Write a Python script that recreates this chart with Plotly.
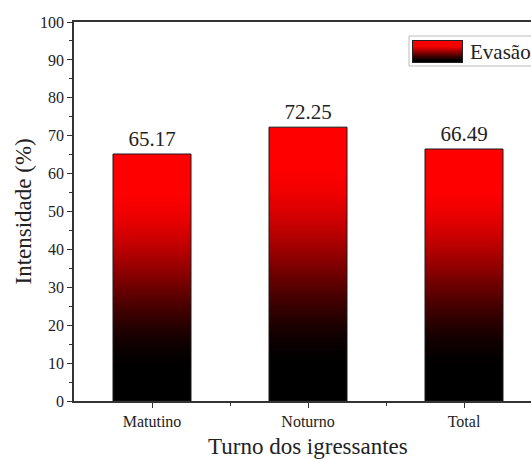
import base64
import plotly.graph_objects as go

categories = ["Matutino", "Noturno", "Total"]
values = [65.17, 72.25, 66.49]
series_name = "Evasão"
y_ticks = list(range(0, 101, 10))

W, H = 531, 459
L, T = 74, 22
BOT_PX = 401
R = 0
B = H - BOT_PX
FONT = "Liberation Serif, Times New Roman, serif"
TXT = "#222222"

N = 100


def grad_color(t):
    x = (t - 0.12) / 0.76
    x = max(0.0, min(1.0, x))
    f = x * x * (3 - 2 * x)
    return f"rgb({int(round(255 * f))},0,0)"


fig = go.Figure()
for k in range(N):
    frac = (N - k) / N
    fig.add_trace(go.Bar(
        x=categories,
        y=[v * frac for v in values],
        width=0.5,
        marker=dict(color=grad_color(frac), line=dict(width=0)),
        showlegend=False,
        hoverinfo="skip",
    ))

fig.add_trace(go.Bar(
    x=categories,
    y=values,
    width=0.5,
    marker=dict(color="rgba(0,0,0,0)", line=dict(color="#1a1a1a", width=1)),
    text=[f"{v:.2f}" for v in values],
    textposition="outside",
    textfont=dict(family=FONT, size=21, color=TXT),
    cliponaxis=False,
    showlegend=False,
    name=series_name,
))

pw = W - L - R
ph = H - T - B


def px_x(px):
    return (px - L) / pw


def px_y(py):
    return (BOT_PX - py) / ph


svg = ('<svg xmlns="http://www.w3.org/2000/svg" width="51" height="23" preserveAspectRatio="none">'
       '<defs><linearGradient id="g" x1="0" y1="0" x2="0" y2="1">'
       '<stop offset="0" stop-color="#ff0000"/><stop offset="0.3" stop-color="#ee0000"/>'
       '<stop offset="0.6" stop-color="#700000"/>'
       '<stop offset="0.9" stop-color="#000000"/><stop offset="1" stop-color="#000000"/></linearGradient></defs>'
       '<rect x="0.5" y="0.5" width="50" height="22" fill="url(#g)" stroke="#222" stroke-width="1"/></svg>')
src = "data:image/svg+xml;base64," + base64.b64encode(svg.encode()).decode()

fig.add_layout_image(dict(
    source=src, xref="paper", yref="paper",
    x=px_x(412), y=px_y(40), sizex=51 / pw, sizey=23 / ph,
    xanchor="left", yanchor="top", sizing="stretch", layer="above",
))
fig.add_shape(type="rect", xref="paper", yref="paper",
              x0=px_x(409), x1=px_x(560), y0=px_y(66), y1=px_y(36),
              line=dict(color="#bbbbbb", width=1), fillcolor="rgba(255,255,255,0)")
fig.add_annotation(text=series_name, xref="paper", yref="paper",
                   x=px_x(468), y=px_y(52), xanchor="left", yanchor="middle",
                   showarrow=False, font=dict(family=FONT, size=21, color=TXT))

fig.add_annotation(text="Turno dos igressantes", xref="x", yref="paper",
                   x=1, y=px_y(446), xanchor="center", yanchor="middle",
                   showarrow=False, font=dict(family=FONT, size=23, color=TXT))
fig.add_annotation(text="Intensidade (%)", xref="paper", yref="paper",
                   x=px_x(23), y=0.5, xanchor="center", yanchor="middle",
                   textangle=-90, showarrow=False,
                   font=dict(family=FONT, size=23, color=TXT))

fig.update_layout(
    width=W, height=H,
    margin=dict(l=L, r=R, t=T, b=B, pad=0),
    paper_bgcolor="white", plot_bgcolor="white",
    barmode="overlay",
    showlegend=False,
    font=dict(family=FONT, color=TXT),
    xaxis=dict(
        range=[-0.5, -0.5 + pw / 156.0],
        showline=True, linecolor="#333333", linewidth=1.5, mirror=True,
        ticks="outside", ticklen=5, tickwidth=1.2, tickcolor="#333333",
        minor=dict(ticks="outside", ticklen=3, tickwidth=1.2, tickcolor="#333333",
                   tickvals=[0.5, 1.5]),
        showgrid=False, zeroline=False,
        tickfont=dict(family=FONT, size=16, color=TXT),
        fixedrange=True,
    ),
    yaxis=dict(
        range=[0, 100],
        tickvals=y_ticks,
        showline=True, linecolor="#333333", linewidth=1.5,
        ticks="outside", ticklen=5, tickwidth=1.2, tickcolor="#333333",
        minor=dict(ticks="outside", ticklen=3, tickwidth=1.2, tickcolor="#333333", dtick=5),
        showgrid=False, zeroline=False,
        tickfont=dict(family=FONT, size=16, color=TXT),
        fixedrange=True,
    ),
)

fig.write_html(
    "out.html",
    config={"displayModeBar": False},
    post_script="document.body.style.margin='0';document.body.style.overflow='hidden';",
)
